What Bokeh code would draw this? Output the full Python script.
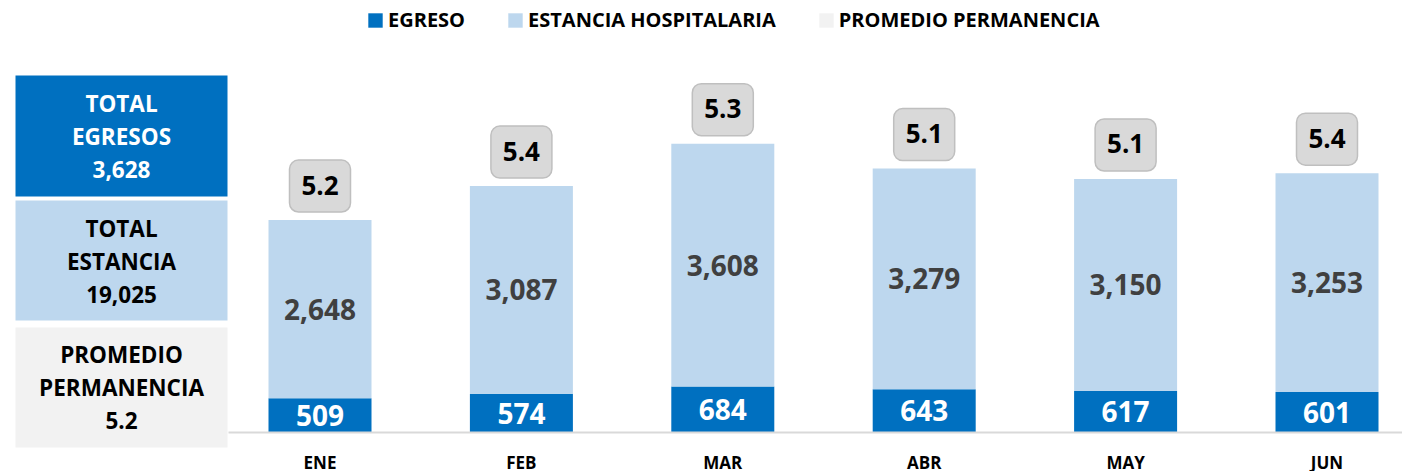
from bokeh.plotting import figure
from bokeh.models import Range1d, FixedTicker, Legend, LegendItem, ColumnDataSource
from bokeh.layouts import row
from bokeh.embed import file_html
from bokeh.resources import INLINE
from bokeh.core.properties import value

months = ["ENE", "FEB", "MAR", "ABR", "MAY", "JUN"]
egreso = [509, 574, 684, 643, 617, 601]
estancia = [2648, 3087, 3608, 3279, 3150, 3253]
promedio = [5.2, 5.4, 5.3, 5.1, 5.1, 5.4]

BLUE = "#0070C0"
LIGHT = "#BDD7EE"
GRAY = "#F2F2F2"
FONT = "Open Sans"

PX = 0.0673          # pixels per unit on the y scale
FRAME_H = 432
FRAME_W = 1174
STEP = 201.4         # pixels between categories
X0 = 91.5            # first category centre from frame left

x = list(range(len(months)))
total = [e + s for e, s in zip(egreso, estancia)]
src = ColumnDataSource(dict(
    x=x,
    egreso=egreso,
    total=total,
    eg_mid=[e / 2 for e in egreso],
    es_mid=[e + s / 2 for e, s in zip(egreso, estancia)],
    box_bottom=[t + 8 / PX for t in total],
    box_top=[t + 60 / PX for t in total],
    box_mid=[t + 35 / PX for t in total],
    eg_txt=[f"{v:,}" for v in egreso],
    es_txt=[f"{v:,}" for v in estancia],
    pr_txt=[f"{v:.1f}" for v in promedio],
))

p = figure(frame_width=FRAME_W, frame_height=FRAME_H,
           x_range=Range1d(-X0 / STEP, (FRAME_W - X0) / STEP),
           y_range=Range1d(0, FRAME_H / PX),
           y_axis_location=None, output_backend="svg", toolbar_location=None,
           min_border=0, min_border_bottom=39, outline_line_color=None)
p.xgrid.visible = False
p.ygrid.visible = False
p.xaxis.ticker = FixedTicker(ticks=x)
p.xaxis.major_label_overrides = {i: m for i, m in zip(x, months)}
p.xaxis.major_tick_line_color = None
p.xaxis.minor_tick_line_color = None
p.xaxis.axis_line_color = "#D9D9D9"
p.xaxis.axis_line_width = 2
p.xaxis.major_label_standoff = 12
p.xaxis.major_label_text_font = FONT
p.xaxis.major_label_text_font_style = "bold"
p.xaxis.major_label_text_font_size = "17px"
p.xaxis.major_label_text_color = "black"

bw = 103 / STEP
r_eg = p.vbar(x="x", bottom=0, top="egreso", width=bw, source=src,
              fill_color=BLUE, line_color=None)
r_es = p.vbar(x="x", bottom="egreso", top="total", width=bw, source=src,
              fill_color=LIGHT, line_color=None)
p.vbar(x="x", bottom="box_bottom", top="box_top", width=61 / STEP, source=src,
       fill_color="#D9D9D9", line_color="#BFBFBF", line_width=1.5, border_radius=9)

p.text(x="x", y="es_mid", text="es_txt", source=src, text_align="center",
       text_baseline="middle", text_font=value(FONT), text_font_style="bold",
       text_font_size="28px", text_color="#404040")
p.text(x="x", y="eg_mid", text="eg_txt", source=src, text_align="center",
       text_baseline="middle", text_font=value(FONT), text_font_style="bold",
       text_font_size="28px", text_color="white")
p.text(x="x", y="box_mid", text="pr_txt", source=src, text_align="center",
       text_baseline="middle", text_font=value(FONT), text_font_style="bold",
       text_font_size="26px", text_color="black")

# legend proxy for the average (kept outside the visible x range)
r_pr = p.quad(left=[-20], right=[-19], top=[1], bottom=[0],
              fill_color=GRAY, line_color=None)

legend = Legend(items=[LegendItem(label="EGRESO", renderers=[r_eg]),
                       LegendItem(label="ESTANCIA HOSPITALARIA", renderers=[r_es]),
                       LegendItem(label="PROMEDIO PERMANENCIA", renderers=[r_pr])],
                orientation="horizontal", location=(138, 399),
                glyph_width=18, glyph_height=18, label_standoff=4, spacing=41,
                padding=0, margin=0, border_line_color=None, background_fill_alpha=0,
                label_text_font=FONT, label_text_font_style="bold",
                label_text_font_size="20px", label_text_color="black")
p.add_layout(legend)

# left summary panel
tot_eg = sum(egreso)
tot_es = sum(estancia)
prom = tot_es / tot_eg

q = figure(frame_width=228, frame_height=471, x_range=Range1d(0, 228),
           y_range=Range1d(471, 0), x_axis_location=None, y_axis_location=None,
           output_backend="svg", toolbar_location=None, min_border=0,
           outline_line_color=None)
q.xgrid.visible = False
q.ygrid.visible = False
q.quad(left=[15, 15, 15], right=[227, 227, 227], top=[75, 200, 327],
       bottom=[196, 320, 447], fill_color=[BLUE, LIGHT, GRAY], line_color=None)
q.text(x=[121, 121, 121], y=[136, 261, 387],
       text=[f"TOTAL\nEGRESOS\n{tot_eg:,}", f"TOTAL\nESTANCIA\n{tot_es:,}",
             f"PROMEDIO\nPERMANENCIA\n{prom:.1f}"],
       text_align="center", text_baseline="middle", text_font=value(FONT),
       text_font_style="bold", text_font_size="22.5px", text_line_height=1.07,
       text_color=["white", "black", "black"])

layout = row(q, p)
open("out.html", "w").write(file_html(layout, INLINE))
